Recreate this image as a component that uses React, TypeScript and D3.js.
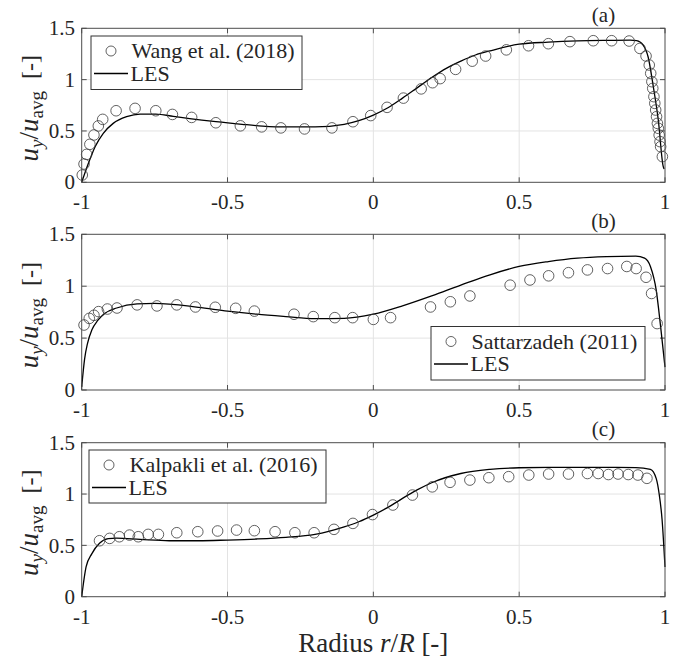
import React from 'react';
import * as d3 from 'd3';

// ---------- data ----------
const xTicks = [-1, -0.5, 0, 0.5, 1];
const yTicks = [0, 0.5, 1, 1.5];
const xTickLabels = ['-1', '-0.5', '0', '0.5', '1'];
const yTickLabels = ['0', '0.5', '1', '1.5'];

const wangData: [number, number][] = [
  [-0.998, 0.071], [-0.992, 0.178], [-0.983, 0.272], [-0.972, 0.37], [-0.958, 0.461],
  [-0.943, 0.549], [-0.928, 0.613], [-0.882, 0.697], [-0.817, 0.72], [-0.746, 0.697],
  [-0.689, 0.661], [-0.623, 0.632], [-0.54, 0.58], [-0.456, 0.55], [-0.383, 0.54],
  [-0.317, 0.53], [-0.236, 0.52], [-0.142, 0.53], [-0.07, 0.59], [-0.009, 0.65],
  [0.047, 0.73], [0.103, 0.82], [0.164, 0.91], [0.203, 0.97], [0.229, 1.01],
  [0.282, 1.1], [0.339, 1.18], [0.385, 1.23], [0.456, 1.29], [0.532, 1.33],
  [0.6, 1.35], [0.674, 1.37], [0.754, 1.379], [0.817, 1.379], [0.877, 1.376],
  [0.914, 1.304], [0.935, 1.23], [0.946, 1.142], [0.951, 1.061], [0.955, 0.98],
  [0.958, 0.915], [0.962, 0.834], [0.965, 0.769], [0.968, 0.704], [0.971, 0.639],
  [0.974, 0.574], [0.977, 0.526], [0.98, 0.46], [0.983, 0.396], [0.985, 0.347],
  [0.991, 0.25],
];
const lesA: [number, number][] = [
  [-1, 0], [-0.977, 0.185], [-0.954, 0.347], [-0.926, 0.477], [-0.892, 0.574],
  [-0.846, 0.639], [-0.8, 0.665], [-0.746, 0.664], [-0.686, 0.642], [-0.63, 0.62],
  [-0.54, 0.59], [-0.45, 0.565], [-0.38, 0.548], [-0.3, 0.539], [-0.2, 0.539],
  [-0.1, 0.565], [-0.05, 0.6], [0, 0.655], [0.05, 0.726], [0.1, 0.82], [0.15, 0.92],
  [0.2, 1.02], [0.25, 1.11], [0.3, 1.18], [0.35, 1.24], [0.4, 1.28], [0.5, 1.345],
  [0.6, 1.365], [0.7, 1.377], [0.8, 1.382], [0.88, 1.384], [0.903, 1.38],
  [0.925, 1.337], [0.942, 1.223], [0.96, 0.93], [0.977, 0.607], [0.994, 0.152],
  [0.997, 0.13],
];

const sattData: [number, number][] = [
  [-0.992, 0.626], [-0.974, 0.69], [-0.958, 0.72], [-0.942, 0.755], [-0.912, 0.78],
  [-0.879, 0.79], [-0.81, 0.82], [-0.742, 0.81], [-0.674, 0.82], [-0.61, 0.8],
  [-0.542, 0.797], [-0.472, 0.787], [-0.408, 0.76], [-0.272, 0.73], [-0.206, 0.707],
  [-0.132, 0.697], [-0.071, 0.697], [0.0, 0.68], [0.059, 0.697], [0.196, 0.8],
  [0.264, 0.85], [0.331, 0.906], [0.469, 1.01], [0.537, 1.06], [0.601, 1.1],
  [0.669, 1.13], [0.734, 1.157], [0.803, 1.17], [0.869, 1.19], [0.901, 1.17],
  [0.935, 1.086], [0.954, 0.93], [0.973, 0.64],
];
const lesB: [number, number][] = [
  [-1, 0.03], [-0.99, 0.3], [-0.98, 0.45], [-0.965, 0.58], [-0.945, 0.67],
  [-0.92, 0.74], [-0.88, 0.79], [-0.81, 0.83], [-0.75, 0.835], [-0.6, 0.797],
  [-0.5, 0.76], [-0.4, 0.73], [-0.3, 0.707], [-0.2, 0.687], [-0.1, 0.69], [0, 0.73],
  [0.1, 0.81], [0.2, 0.906], [0.3, 1.01], [0.4, 1.11], [0.5, 1.19], [0.6, 1.237],
  [0.7, 1.27], [0.8, 1.285], [0.9, 1.29], [0.93, 1.27], [0.95, 1.19], [0.97, 0.96],
  [0.985, 0.61], [1.0, 0.22],
];

const kalpData: [number, number][] = [
  [-0.939, 0.545], [-0.904, 0.568], [-0.871, 0.584], [-0.836, 0.6], [-0.806, 0.584],
  [-0.772, 0.607], [-0.737, 0.607], [-0.674, 0.623], [-0.602, 0.633], [-0.534, 0.64],
  [-0.469, 0.649], [-0.408, 0.643], [-0.337, 0.633], [-0.269, 0.623], [-0.203, 0.623],
  [-0.135, 0.656], [-0.07, 0.714], [-0.003, 0.8], [0.067, 0.893], [0.134, 0.99],
  [0.202, 1.07], [0.263, 1.114], [0.331, 1.136], [0.396, 1.159], [0.464, 1.169],
  [0.533, 1.185], [0.601, 1.195], [0.669, 1.195], [0.734, 1.2], [0.771, 1.2],
  [0.806, 1.19], [0.839, 1.195], [0.874, 1.19], [0.907, 1.185], [0.938, 1.153],
];
const lesC: [number, number][] = [
  [-1, 0], [-0.985, 0.29], [-0.965, 0.42], [-0.939, 0.52], [-0.909, 0.565],
  [-0.88, 0.57], [-0.8, 0.558], [-0.7, 0.545], [-0.6, 0.545], [-0.5, 0.552],
  [-0.4, 0.562], [-0.3, 0.578], [-0.2, 0.607], [-0.1, 0.68], [-0.05, 0.73],
  [0, 0.795], [0.05, 0.87], [0.1, 0.958], [0.15, 1.04], [0.2, 1.11], [0.3, 1.2],
  [0.4, 1.24], [0.5, 1.256], [0.6, 1.26], [0.7, 1.26], [0.8, 1.26], [0.9, 1.258],
  [0.95, 1.24], [0.97, 1.15], [0.98, 1.0], [0.99, 0.75], [1.0, 0.29],
];

const expNames = ['Wang et al. (2018)', 'Sattarzadeh (2011)', 'Kalpakli et al. (2016)'];
const lesName = 'LES';
const panelTags = ['(a)', '(b)', '(c)'];

// ---------- layout ----------
const FONT = 'Liberation Serif';
const TXT = '#262626';
const X0 = 81.7;
const X1 = 665;
const panelLayout = [
  { top: 28.3, bottom: 182.3, legend: { x: 91, y: 36, w: 211, h: 53.5 } },
  { top: 234.3, bottom: 390, legend: { x: 431, y: 326.5, w: 214, h: 53.5 } },
  { top: 442.7, bottom: 596.7, legend: { x: 89, y: 450, w: 237, h: 53 } },
];
const panelData = [
  { exp: wangData, les: lesA },
  { exp: sattData, les: lesB },
  { exp: kalpData, les: lesC },
];

function Panel({ idx }: { idx: number }) {
  const L = panelLayout[idx];
  const D = panelData[idx];
  const x = d3.scaleLinear().domain([-1, 1]).range([X0, X1]);
  const y = d3.scaleLinear().domain([0, 1.5]).range([L.bottom, L.top]);
  const line = d3
    .line<[number, number]>()
    .x((d) => x(d[0]))
    .y((d) => y(d[1]))
    .curve(d3.curveMonotoneX);
  const tl = 5;
  const lg = L.legend;
  const cy = (L.top + L.bottom) / 2 + 3;
  return (
    <g fontFamily={FONT}>
      {/* grid */}
      {xTicks.slice(1, -1).map((t) => (
        <line key={'gx' + t} x1={x(t)} x2={x(t)} y1={L.top} y2={L.bottom} stroke="#e3e3e3" strokeWidth={1} />
      ))}
      {yTicks.slice(1, -1).map((t) => (
        <line key={'gy' + t} x1={X0} x2={X1} y1={y(t)} y2={y(t)} stroke="#e3e3e3" strokeWidth={1} />
      ))}
      {/* ticks */}
      {xTicks.map((t) => (
        <g key={'tx' + t}>
          <line x1={x(t)} x2={x(t)} y1={L.bottom} y2={L.bottom - tl} stroke="#4d4d4d" />
          <line x1={x(t)} x2={x(t)} y1={L.top} y2={L.top + tl} stroke="#4d4d4d" />
        </g>
      ))}
      {yTicks.map((t) => (
        <g key={'ty' + t}>
          <line x1={X0} x2={X0 + tl} y1={y(t)} y2={y(t)} stroke="#4d4d4d" />
          <line x1={X1} x2={X1 - tl} y1={y(t)} y2={y(t)} stroke="#4d4d4d" />
        </g>
      ))}
      {/* tick labels */}
      {xTicks.map((t, i) => (
        <text key={'lx' + t} x={x(t)} y={L.bottom + 27} textAnchor="middle" fontFamily={FONT} fontSize={21} fill={TXT}>
          {xTickLabels[i]}
        </text>
      ))}
      {yTicks.map((t, i) => (
        <text key={'ly' + t} x={75} y={y(t)} dy="0.34em" textAnchor="end" fontFamily={FONT} fontSize={21} fill={TXT}>
          {yTickLabels[i]}
        </text>
      ))}
      {/* data */}
      <path d={line(D.les) || ''} fill="none" stroke="#000" strokeWidth={1.3} />
      {D.exp.map((d, i) => (
        <circle key={'c' + i} cx={x(d[0])} cy={y(d[1])} r={5.3} fill="none" stroke="#3a3a3a" strokeWidth={0.8} />
      ))}
      {/* box */}
      <rect x={X0} y={L.top} width={X1 - X0} height={L.bottom - L.top} fill="none" stroke="#4d4d4d" strokeWidth={1} />
      {/* y label */}
      <text transform={`translate(38,${cy}) rotate(-90)`} textAnchor="middle" fontFamily={FONT} fill={TXT}>
        <tspan fontStyle="italic" fontSize={27}>u</tspan>
        <tspan fontStyle="italic" fontSize={19} dy={5}>y</tspan>
        <tspan fontSize={27} dy={-5}>/</tspan>
        <tspan fontStyle="italic" fontSize={27}>u</tspan>
        <tspan fontSize={19} dy={5}>avg</tspan>
        <tspan fontSize={24} dy={-5}>{'\u00a0\u00a0[-]'}</tspan>
      </text>
      {/* panel tag */}
      <text x={603.5} y={L.top - 6.5} textAnchor="middle" fontFamily={FONT} fontSize={21} fill={TXT}>
        {panelTags[idx]}
      </text>
      {/* legend */}
      <rect x={lg.x} y={lg.y} width={lg.w} height={lg.h} fill="#fff" stroke="#333" strokeWidth={1} />
      <circle cx={lg.x + 20} cy={lg.y + 15} r={5} fill="none" stroke="#3a3a3a" strokeWidth={0.8} />
      <text x={lg.x + 40.5} y={lg.y + 22} fontFamily={FONT} fontSize={22} fill={TXT}>
        {expNames[idx]}
      </text>
      <line x1={lg.x + 3} x2={lg.x + 37} y1={lg.y + 37.5} y2={lg.y + 37.5} stroke="#000" strokeWidth={1.3} />
      <text x={lg.x + 39.5} y={lg.y + 44.5} fontFamily={FONT} fontSize={22} fill={TXT}>
        {lesName}
      </text>
    </g>
  );
}

export default function App() {
  return (
    <svg width={691} height={664} style={{ position: 'absolute', left: 0, top: 0, background: '#fff' }} fontFamily={FONT}>
      <rect x={0} y={0} width={691} height={664} fill="#fff" />
      {[0, 1, 2].map((i) => (
        <Panel key={i} idx={i} />
      ))}
      <text x={(X0 + X1) / 2} y={652} textAnchor="middle" fontFamily={FONT} fontSize={27} fill={TXT}>
        <tspan>{'Radius\u00a0'}</tspan>
        <tspan fontStyle="italic">r</tspan>
        <tspan>/</tspan>
        <tspan fontStyle="italic">R</tspan>
        <tspan>{'\u00a0[-]'}</tspan>
      </text>
    </svg>
  );
}
